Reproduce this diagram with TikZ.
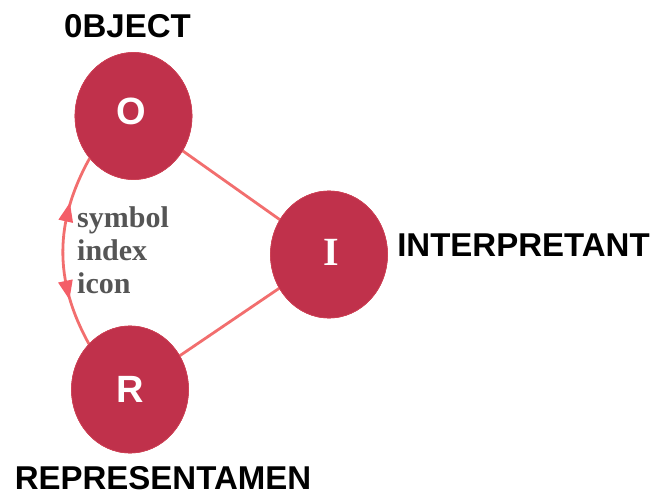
\documentclass[tikz,border=0pt]{standalone}
\usepackage{fontspec}
\setmainfont{Liberation Serif}
\newfontfamily\labelfont{Liberation Sans}
\usetikzlibrary{shapes.geometric}
\definecolor{signred}{HTML}{C0314B}
\definecolor{linkpink}{HTML}{F26E6E}
\definecolor{tippink}{HTML}{F45E68}
\definecolor{notegrey}{HTML}{555555}
\tikzset{
  sign/.style={ellipse, fill=signred, draw=signred!70!linkpink, line width=0.6pt,
    minimum width=117pt, minimum height=127pt, inner sep=0pt},
  signletter/.style={text=white, font=\labelfont\bfseries\fontsize{38}{38}\selectfont},
  role/.style={inner sep=0pt, font=\labelfont\bfseries\fontsize{33}{33}\selectfont},
  link/.style={draw=linkpink, line width=2.8pt},
  kind/.style={anchor=base west, inner sep=0pt, text=notegrey,
    font=\bfseries\fontsize{30}{33}\selectfont},
  headmark/.style={isosceles triangle, isosceles triangle stretches,
    fill=tippink, draw=none, inner sep=0pt,
    minimum height=19pt, minimum width=15pt,
    sloped, allow upside down},
}
\begin{document}
\begin{tikzpicture}[x=1pt,y=-1pt]
\useasboundingbox (0,0) rectangle (657,495);
% the three corners of the sign
\node[sign] (O) at (133.5,116) {};
\node[sign] (I) at (329,254.5) {};
\node[sign] (R) at (130,389.5) {};
% connections
\draw[link] (O) -- (I);
\draw[link] (I) -- (R);
\draw[link] (O.224) to[out=-119,in=119]
  node[headmark, pos=0.31, shape border rotate=180] (hup) {}
  node[headmark, pos=0.69] (hdown) {}
  (R.132);
% discs on top of the links
\node[sign] at (O) {};
\node[sign] at (I) {};
\node[sign] at (R) {};
\node[signletter] (Ot) at (131,111) {O};
\node[text=white, font=\bfseries\fontsize{40}{40}\selectfont] (It) at (331.5,252) {I};
\node[signletter] (Rt) at (130.5,389) {R};
% role labels
\node[role] (objlabel) at (127.5,26.5) {0BJECT};
\node[role] (intlabel) at (523.5,245.5) {INTERPRETANT};
\node[role] (replabel) at (163,478) {REPRESENTAMEN};
% kinds of sign
\node[kind] (k1) at (77,227) {symbol};
\node[kind] (k2) at (77,260) {index};
\node[kind] (k3) at (77,293) {icon};
\end{tikzpicture}
\end{document}
